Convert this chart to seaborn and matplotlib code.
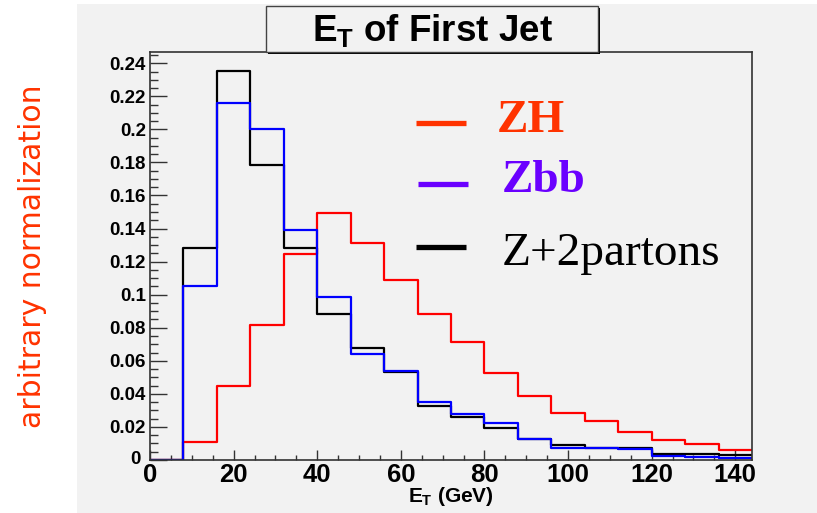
import numpy as np
import pandas as pd
import matplotlib
matplotlib.use("Agg")
import matplotlib.pyplot as plt
from matplotlib.patches import Rectangle
from matplotlib.lines import Line2D
from matplotlib.ticker import MultipleLocator, FuncFormatter
from matplotlib.transforms import ScaledTranslation
import seaborn as sns

# ---- data (bin width 8 GeV, 0..144) ----
bin_edges = list(range(0, 145, 8))
bin_centers = [e + 4 for e in bin_edges[:-1]]
zh = [0, 0.0107, 0.0448, 0.0816, 0.1248, 0.1495, 0.1313, 0.1089, 0.0885,
      0.0711, 0.0525, 0.0390, 0.0287, 0.0238, 0.0172, 0.0124, 0.0096, 0.0063]
zbb = [0, 0.1055, 0.2158, 0.2000, 0.1394, 0.0988, 0.0640, 0.0539, 0.0351,
       0.0277, 0.0222, 0.0129, 0.0075, 0.0075, 0.0065, 0.0025, 0.0021, 0.0010]
z2p = [0, 0.1283, 0.2353, 0.1784, 0.1280, 0.0883, 0.0679, 0.0531, 0.0327,
       0.0263, 0.0196, 0.0129, 0.0091, 0.0071, 0.0071, 0.0036, 0.0035, 0.0030]
series_names = ["Z+2partons", "ZH", "Zbb"]
series_vals = [z2p, zh, zbb]
series_colors = ["#000000", "#ff0000", "#0000ff"]
legend_labels = ["ZH", "Zbb", "Z+2partons"]
legend_colors = ["#ff3300", "#6a00ff", "#000000"]
x_ticks = [0, 20, 40, 60, 80, 100, 120, 140]
y_ticks = [0, 0.02, 0.04, 0.06, 0.08, 0.1, 0.12, 0.14, 0.16, 0.18, 0.2, 0.22, 0.24]

sns.set_style("ticks")
plt.rcParams["font.family"] = ["Liberation Sans", "DejaVu Sans"]
plt.rcParams["text.color"] = "black"
plt.rcParams["xtick.labelcolor"] = "black"
plt.rcParams["ytick.labelcolor"] = "black"
plt.rcParams["mathtext.fontset"] = "custom"
plt.rcParams["mathtext.rm"] = "Liberation Sans:bold"
plt.rcParams["mathtext.it"] = "Liberation Sans:bold"
plt.rcParams["mathtext.bf"] = "Liberation Sans:bold"

W, H = 817, 513
fig = plt.figure(figsize=(W / 100, H / 100), dpi=100)
fig.patch.set_facecolor("white")

def fx(px):
    return px / W

def fy(py):
    return 1 - py / H

# gray canvas
fig.patches.append(Rectangle((fx(77), 0), 1 - fx(77), fy(4), transform=fig.transFigure,
                             facecolor="#f2f2f2", edgecolor="none", zorder=-10))

ax = fig.add_axes([fx(150), fy(460), fx(752) - fx(150), fy(52) - fy(460)])
ax.set_facecolor("#f2f2f2")

for name, vals, col in zip(series_names, series_vals, series_colors):
    df = pd.DataFrame({"et": bin_centers, "w": vals})
    sns.histplot(data=df, x="et", weights="w", bins=bin_edges, element="step",
                 fill=False, color=col, linewidth=1.6, ax=ax)

ax.set_xlim(0, 144)
ax.set_ylim(0, 0.2468)
ax.set_xticks(x_ticks)
ax.set_yticks(y_ticks)
ax.xaxis.set_minor_locator(MultipleLocator(5))
ax.yaxis.set_minor_locator(MultipleLocator(0.005))
ax.yaxis.set_major_formatter(FuncFormatter(lambda v, p: "%g" % round(v, 3)))
ax.tick_params(axis="x", which="major", direction="in", length=7, width=1, color="#333333",
               labelsize=18.5, pad=2, labelcolor="black")
ax.tick_params(axis="x", which="minor", direction="in", length=3.5, width=1, color="#333333")
ax.tick_params(axis="y", which="major", direction="in", length=12, width=1, color="#333333",
               labelsize=13.5, pad=3, labelcolor="black")
ax.tick_params(axis="y", which="minor", direction="in", length=6, width=1, color="#333333")
for lab in ax.get_xticklabels() + ax.get_yticklabels():
    lab.set_fontweight("bold")
for s in ax.spines.values():
    s.set_visible(True)
    s.set_color("#333333")
    s.set_linewidth(1.2)
ax.set_xlabel("")
ax.set_ylabel("")

# nudge the y "0" label so it does not collide with the x "0" label
y0_label = ax.yaxis.get_major_ticks()[0].label1
y0_label.set_transform(y0_label.get_transform() +
                       ScaledTranslation(-5 / 100, 3 / 100, fig.dpi_scale_trans))

# x label
fig.text(fx(451), fy(502), r"$E_T$ (GeV)", ha="center", va="baseline",
         fontsize=15, fontweight="bold", color="black")

# title box with shadow
fig.patches.append(Rectangle((fx(268), fy(54)), fx(600) - fx(268), fy(8) - fy(54),
                             transform=fig.transFigure, facecolor="#000000",
                             edgecolor="none", zorder=5))
fig.patches.append(Rectangle((fx(266), fy(52)), fx(598) - fx(266), fy(6) - fy(52),
                             transform=fig.transFigure, facecolor="#f2f2f2",
                             edgecolor="#444444", linewidth=1, zorder=6))
fig.text(fx(432), fy(41), r"$E_T$ of First Jet", ha="center", va="baseline",
         fontsize=26.5, fontweight="bold", color="black", zorder=7)

# y label
fig.text(fx(33), fy(256), "arbitrary normalization", rotation=90, ha="center", va="center",
         fontsize=21.5, color="#ff3300", family=["DejaVu Sans"])

# legend-like annotation
leg_y = [123, 184, 247]
leg_x0 = [416, 418, 416]
text_x = [497, 502, 502]
text_base = [132, 192, 265]
weights = ["bold", "bold", "normal"]
for i in range(3):
    fig.lines.append(Line2D([fx(leg_x0[i]), fx(leg_x0[i] + 50)], [fy(leg_y[i]), fy(leg_y[i])],
                            transform=fig.transFigure, color=legend_colors[i], linewidth=3.8,
                            solid_capstyle="butt"))
    fig.text(fx(text_x[i]), fy(text_base[i]), legend_labels[i], ha="left", va="baseline",
             fontsize=34, fontweight=weights[i], color=legend_colors[i],
             family=["Liberation Serif"])

fig.savefig("out.png", dpi=100)
